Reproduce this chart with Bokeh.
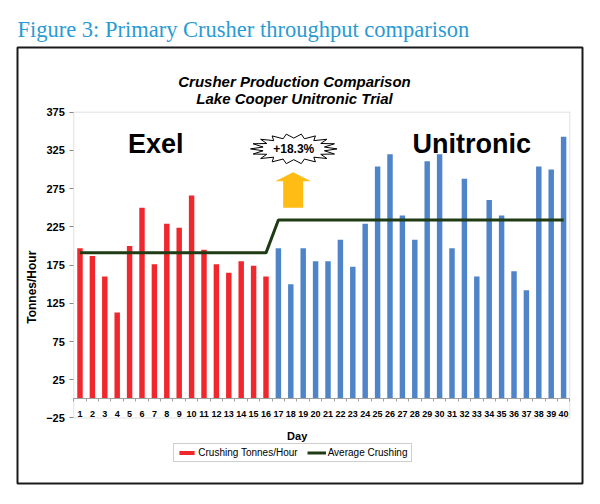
import numpy as np
from bokeh.plotting import figure
from bokeh.models import (Range1d, FixedTicker, Label, Legend, LegendItem, BoxAnnotation, LinearAxis)
from bokeh.embed import file_html
from bokeh.resources import INLINE

# ---------------- data ----------------
days = list(range(1, 41))
exel_days = days[:16]
exel_values = [197, 187, 160, 113, 200, 250, 176, 229, 224, 266, 195, 176, 165, 180, 174, 160]
unitronic_days = days[16:]
unitronic_values = [197, 150, 197, 180, 180, 208, 173, 229, 304, 320, 240, 208,
                    311, 320, 197, 288, 160, 260, 240, 167, 142, 304, 300, 343]
average_values = [191, 191, 191, 191, 191, 191, 191, 191, 191, 191, 191, 191, 191, 191, 191, 191,
                  234, 234, 234, 234, 234, 234, 234, 234, 234, 234, 234, 234, 234, 234, 234, 234,
                  234, 234, 234, 234, 234, 234, 234, 234]
y_ticks = [-25, 25, 75, 125, 175, 225, 275, 325, 375]
figure_title = "Figure 3: Primary Crusher throughput comparison"
chart_title_1 = "Crusher Production Comparison"
chart_title_2 = "Lake Cooper Unitronic Trial"
increase_text = "+18.3%"

FONT = "Liberation Sans"
RED = "#F0282D"
BLUE = "#4F84C9"
GREEN = "#1E3B14"

# plot-area value limits and the chart area around them
X_LO, X_HI = 0.5, 40.5
Y_LO, Y_HI = -25, 375

# frame = whole chart box; the plot area sits inside it via the ranges
p = figure(width=600, height=504, output_backend="svg", toolbar_location=None,
           x_range=Range1d(-4.04, 41.524), y_range=Range1d(-110.68, 459.63),
           x_axis_location=None, y_axis_location=None,
           min_border_left=17, min_border_right=18, min_border_top=47, min_border_bottom=21)
p.background_fill_color = "white"
p.border_fill_color = "white"
p.outline_line_color = "#1a1a1a"
p.outline_line_width = 2
p.xgrid.visible = False
p.ygrid.visible = False

# figure caption
p.title.text = figure_title
p.title.align = "left"
p.title.text_font = "Liberation Serif"
p.title.text_font_style = "normal"
p.title.text_font_size = "22.5px"
p.title.text_color = "#2A9AD4"
p.title.standoff = 12
p.title.offset = 0

# bars and average line
red_bars = p.vbar(x=exel_days, top=exel_values, bottom=0, width=0.44, fill_color=RED, line_color=None)
p.vbar(x=unitronic_days, top=unitronic_values, bottom=0, width=0.44, fill_color=BLUE, line_color=None)
avg_line = p.line(days, average_values, line_color=GREEN, line_width=3)

# plot-area outline
p.add_layout(BoxAnnotation(left=X_LO, right=X_HI, bottom=Y_LO, top=Y_HI,
                           fill_color=None, line_color="#9a9a9a", line_width=1))

# y axis fixed at plot-area left edge
yax = LinearAxis(fixed_location=X_LO, bounds=(Y_LO, Y_HI), ticker=FixedTicker(ticks=y_ticks))
yax.axis_line_color = None
yax.major_tick_line_color = "#888888"
yax.major_tick_out = 4
yax.major_tick_in = 0
yax.minor_tick_line_color = None
yax.major_label_standoff = 5
yax.major_label_text_font = FONT
yax.major_label_text_font_style = "bold"
yax.major_label_text_font_size = "11px"
yax.major_label_text_color = "black"
p.add_layout(yax, "left")

# x axis fixed on the zero line
xax = LinearAxis(fixed_location=0, bounds=(X_LO, X_HI),
                 ticker=FixedTicker(ticks=days, minor_ticks=[d + 0.5 for d in range(0, 41)]))
xax.axis_line_color = "#a0a0a0"
xax.major_tick_line_color = None
xax.major_tick_out = 0
xax.major_tick_in = 0
xax.minor_tick_line_color = "#a0a0a0"
xax.minor_tick_out = 3
xax.minor_tick_in = 0
xax.major_label_standoff = 9
xax.major_label_text_font = FONT
xax.major_label_text_font_style = "bold"
xax.major_label_text_font_size = "9px"
xax.major_label_text_color = "black"
p.add_layout(xax, "below")

# starburst with percentage
star_cx, star_cy, star_rx, star_ry, n_spikes = 18.24, 327.0, 3.49, 19.6, 18
ang = np.linspace(0, 2 * np.pi, 2 * n_spikes, endpoint=False)
rad = np.where(np.arange(2 * n_spikes) % 2 == 0, 1.0, 0.72)
p.patch(star_cx + star_rx * rad * np.cos(ang), star_cy + star_ry * rad * np.sin(ang),
        fill_color="white", line_color="black", line_width=1)
p.add_layout(Label(x=star_cx, y=star_cy, text=increase_text, text_align="center",
                   text_baseline="middle", text_font=FONT, text_font_style="bold",
                   text_font_size="12px", text_color="black"))

# upward arrow
ax_c, head_top, head_base, shaft_bot, head_hw, shaft_hw = 18.19, 296.5, 284.8, 250.0, 1.44, 0.806
p.patch([ax_c - shaft_hw, ax_c - shaft_hw, ax_c - head_hw, ax_c, ax_c + head_hw, ax_c + shaft_hw, ax_c + shaft_hw],
        [shaft_bot, head_base, head_base, head_top, head_base, head_base, shaft_bot],
        fill_color="#FFBC14", line_color=None)

# phase labels
for txt, xc in (("Exel", 7.11), ("Unitronic", 32.59)):
    p.add_layout(Label(x=xc, y=332.8, text=txt, text_align="center", text_baseline="alphabetic",
                       text_font=FONT, text_font_style="bold", text_font_size="27px", text_color="black"))

# chart texts (screen px from the chart box's bottom-left corner)
def slabel(text, x, y, **kw):
    p.add_layout(Label(x=x, y=y, x_units="screen", y_units="screen", text=text, **kw))

slabel(chart_title_1, 277, 401.7, text_font=FONT, text_font_style="bold italic", text_font_size="15px",
       text_color="black", text_align="center", text_baseline="alphabetic")
slabel(chart_title_2, 277, 384.7, text_font=FONT, text_font_style="bold italic", text_font_size="15px",
       text_color="black", text_align="center", text_baseline="alphabetic")
slabel("Day", 279.7, 48, text_font=FONT, text_font_style="bold", text_font_size="11px",
       text_color="black", text_align="center", text_baseline="alphabetic")
slabel("Tonnes/Hour", 14, 196.3, angle=np.pi / 2, text_font=FONT, text_font_style="bold",
       text_font_size="12px", text_color="black", text_align="center", text_baseline="middle")

legend = Legend(items=[LegendItem(label="Crushing Tonnes/Hour", renderers=[red_bars]),
                       LegendItem(label="Average Crushing", renderers=[avg_line])],
                location=(156.3, 21), orientation="horizontal", padding=3, spacing=9, margin=0,
                glyph_width=19, glyph_height=5, label_standoff=2,
                label_text_font=FONT, label_text_font_size="10px", label_text_color="black",
                border_line_color="#a0a0a0", border_line_width=1, background_fill_color="white")
p.add_layout(legend, "center")

open("out.html", "w").write(file_html(p, INLINE))
